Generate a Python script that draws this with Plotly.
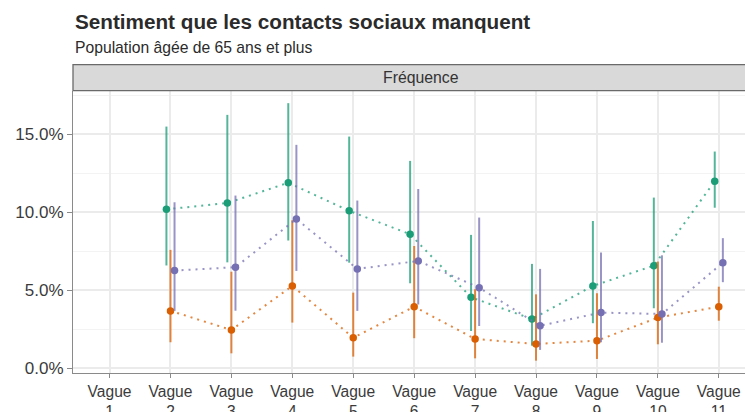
import plotly.graph_objects as go

# ---- data (values in %) ----
categories = ["Vague 1", "Vague 2", "Vague 3", "Vague 4", "Vague 5", "Vague 6",
              "Vague 7", "Vague 8", "Vague 9", "Vague 10", "Vague 11"]
tick_labels = ["Vague<br>1", "Vague<br>2", "Vague<br>3", "Vague<br>4", "Vague<br>5",
               "Vague<br>6", "Vague<br>7", "Vague<br>8", "Vague<br>9", "Vague<br>10",
               "Vague<br>11"]
y_tick_vals = [0, 5, 10, 15]
y_tick_labels = ["0.0%", "5.0%", "10.0%", "15.0%"]

green_val = [None, 10.2, 10.6, 11.9, 10.1, 8.6, 4.56, 3.17, 5.29, 6.59, 12.0]
green_hi = [None, 15.5, 16.25, 17.0, 14.86, 13.3, 8.56, 6.7, 9.45, 10.95, 13.9]
green_lo = [None, 6.6, 6.8, 8.2, 6.78, 5.46, 2.4, 1.46, 2.9, 3.86, 10.3]

orange_val = [None, 3.69, 2.47, 5.29, 1.97, 3.96, 1.89, 1.57, 1.78, 3.26, 3.96]
orange_hi = [None, 7.6, 6.2, 9.5, 4.86, 7.85, 5.08, 4.75, 4.82, 6.85, 5.24]
orange_lo = [None, 1.68, 0.97, 2.94, 0.76, 1.94, 0.65, 0.5, 0.61, 1.55, 3.06]

purple_val = [None, 6.27, 6.49, 9.58, 6.38, 6.89, 5.18, 2.74, 3.58, 3.49, 6.78]
purple_hi = [None, 10.65, 11.08, 14.33, 10.76, 11.5, 9.67, 6.38, 7.43, 7.25, 8.35]
purple_lo = [None, 3.69, 3.7, 6.25, 3.69, 4.1, 2.72, 1.19, 1.68, 1.65, 5.53]

series = [
    ("g", green_val, green_hi, green_lo, (27, 158, 119)),
    ("o", orange_val, orange_hi, orange_lo, (217, 95, 2)),
    ("p", purple_val, purple_hi, purple_lo, (117, 112, 179)),
]

dodge = 0.2
n = len(series)
fig = go.Figure()

for k, (name, val, hi, lo, rgb) in enumerate(series):
    off = (k - (n - 1) / 2) * dodge / n
    xs, ys, ep, em = [], [], [], []
    for i, v in enumerate(val):
        if v is None:
            continue
        xs.append(i + 1 + off)
        ys.append(v)
        ep.append(hi[i] - v)
        em.append(v - lo[i])
    r, g, b = rgb
    # dotted connecting line
    fig.add_trace(go.Scatter(
        x=xs, y=ys, mode="lines",
        line=dict(color=f"rgba({r},{g},{b},0.75)", width=2, dash="2px,5px"),
        hoverinfo="skip", showlegend=False))
    # points + error bars
    fig.add_trace(go.Scatter(
        x=xs, y=ys, mode="markers", name=name,
        marker=dict(color=f"rgb({r},{g},{b})", size=7.5),
        error_y=dict(type="data", symmetric=False, array=ep, arrayminus=em,
                     width=0, thickness=2, color=f"rgba({r},{g},{b},0.75)"),
        showlegend=False))

PT = 91
PB = 373
H = 412
ph = PB - PT

def py(ypx):
    return (PB - ypx) / ph

axis_col = "#8a8a8a"
text_col = "#3b3b3b"
font_family = "Liberation Sans, Arial, sans-serif"

fig.update_layout(
    width=745, height=H,
    margin=dict(l=73, r=0, t=PT, b=H - PB, pad=0, autoexpand=False),
    plot_bgcolor="white", paper_bgcolor="white",
    font=dict(family=font_family, color=text_col),
    showlegend=False,
    xaxis=dict(
        range=[0.4, 11.43], automargin=False,
        tickmode="array", tickvals=list(range(1, len(categories) + 1)),
        ticktext=tick_labels,
        showgrid=True, gridcolor="#ebebeb", gridwidth=1.6,
        zeroline=False,
        showline=True, linecolor=axis_col, linewidth=1.2,
        ticks="outside", ticklen=4, tickcolor=axis_col, tickwidth=1.2,
        tickfont=dict(size=15.6, color=text_col),
    ),
    yaxis=dict(
        range=[-0.29, 17.78], automargin=False,
        tickmode="array", tickvals=y_tick_vals, ticktext=y_tick_labels,
        showgrid=True, gridcolor="#ebebeb", gridwidth=1.6,
        minor=dict(tickmode="array", tickvals=[2.5, 7.5, 12.5, 17.5], showgrid=True,
                   gridcolor="#f3f3f3", gridwidth=1, ticks=""),
        zeroline=False,
        showline=True, linecolor=axis_col, linewidth=1.2,
        ticks="outside", ticklen=5, tickcolor=axis_col, tickwidth=1.2,
        tickfont=dict(size=17, color=text_col),
    ),
    shapes=[dict(type="rect", xref="paper", yref="paper",
                 x0=0, x1=1.2, y0=py(90.7), y1=py(64.6),
                 fillcolor="#d9d9d9", line=dict(color="#6a6a6a", width=1.3),
                 layer="above")],
    annotations=[
        dict(text="<b>Sentiment que les contacts sociaux manquent</b>",
             xref="paper", yref="paper", x=0, y=py(22), xanchor="left",
             yanchor="middle", showarrow=False,
             font=dict(size=20.7, color="#2b2b2b")),
        dict(text="Population âgée de 65 ans et plus",
             xref="paper", yref="paper", x=0, y=py(47), xanchor="left",
             yanchor="middle", showarrow=False,
             font=dict(size=15.7, color="#2b2b2b")),
        dict(text="Fréquence", xref="paper", yref="paper",
             x=(420.5 - 73) / (745 - 73), y=py(77.5), xanchor="center",
             yanchor="middle", showarrow=False,
             font=dict(size=15.8, color="#333333")),
    ],
)

fig.write_html("out.html", config={"displayModeBar": False},
               post_script="document.body.style.margin='0';document.body.style.overflow='hidden';")
